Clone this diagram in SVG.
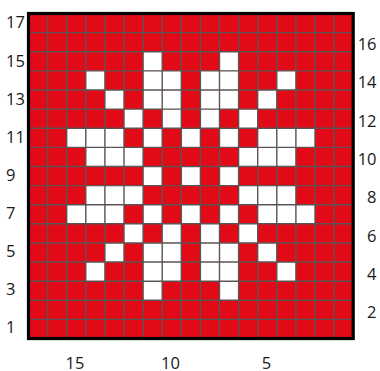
<svg xmlns="http://www.w3.org/2000/svg" width="380" height="371" viewBox="0 0 380 371">
<style>
.bg{fill:#e30a17}
.w{fill:#ffffff;width:19.1px;height:19.12px}
.grid{fill:none;stroke:#5c5454;stroke-width:1.4}
.border{fill:none;stroke:#000000;stroke-width:3.2}
text{font-family:"Open Sans","Noto Sans","DejaVu Sans",sans-serif;font-size:16.5px;fill:#1a1a1a}
.l{text-anchor:start}
.r{text-anchor:end}
.b{text-anchor:middle}
</style>
<rect width="380" height="371" fill="#ffffff"/>
<g id="chart">
<rect class="bg" x="28.5" y="13.5" width="324.7" height="325.04"/>
<g id="cells">
<rect class="w" x="143.1" y="51.74"/><rect class="w" x="219.5" y="51.74"/>
<rect class="w" x="85.8" y="70.86"/><rect class="w" x="143.1" y="70.86"/><rect class="w" x="162.2" y="70.86"/><rect class="w" x="200.4" y="70.86"/><rect class="w" x="219.5" y="70.86"/><rect class="w" x="276.8" y="70.86"/>
<rect class="w" x="104.9" y="89.98"/><rect class="w" x="143.1" y="89.98"/><rect class="w" x="162.2" y="89.98"/><rect class="w" x="200.4" y="89.98"/><rect class="w" x="219.5" y="89.98"/><rect class="w" x="257.7" y="89.98"/>
<rect class="w" x="124" y="109.1"/><rect class="w" x="162.2" y="109.1"/><rect class="w" x="200.4" y="109.1"/><rect class="w" x="238.6" y="109.1"/>
<rect class="w" x="66.7" y="128.22"/><rect class="w" x="85.8" y="128.22"/><rect class="w" x="104.9" y="128.22"/><rect class="w" x="143.1" y="128.22"/><rect class="w" x="181.3" y="128.22"/><rect class="w" x="219.5" y="128.22"/><rect class="w" x="257.7" y="128.22"/><rect class="w" x="276.8" y="128.22"/><rect class="w" x="295.9" y="128.22"/>
<rect class="w" x="85.8" y="147.34"/><rect class="w" x="104.9" y="147.34"/><rect class="w" x="124" y="147.34"/><rect class="w" x="238.6" y="147.34"/><rect class="w" x="257.7" y="147.34"/><rect class="w" x="276.8" y="147.34"/>
<rect class="w" x="143.1" y="166.46"/><rect class="w" x="181.3" y="166.46"/><rect class="w" x="219.5" y="166.46"/>
<rect class="w" x="85.8" y="185.58"/><rect class="w" x="104.9" y="185.58"/><rect class="w" x="124" y="185.58"/><rect class="w" x="238.6" y="185.58"/><rect class="w" x="257.7" y="185.58"/><rect class="w" x="276.8" y="185.58"/>
<rect class="w" x="66.7" y="204.7"/><rect class="w" x="85.8" y="204.7"/><rect class="w" x="104.9" y="204.7"/><rect class="w" x="143.1" y="204.7"/><rect class="w" x="181.3" y="204.7"/><rect class="w" x="219.5" y="204.7"/><rect class="w" x="257.7" y="204.7"/><rect class="w" x="276.8" y="204.7"/><rect class="w" x="295.9" y="204.7"/>
<rect class="w" x="124" y="223.82"/><rect class="w" x="162.2" y="223.82"/><rect class="w" x="200.4" y="223.82"/><rect class="w" x="238.6" y="223.82"/>
<rect class="w" x="104.9" y="242.94"/><rect class="w" x="143.1" y="242.94"/><rect class="w" x="162.2" y="242.94"/><rect class="w" x="200.4" y="242.94"/><rect class="w" x="219.5" y="242.94"/><rect class="w" x="257.7" y="242.94"/>
<rect class="w" x="85.8" y="262.06"/><rect class="w" x="143.1" y="262.06"/><rect class="w" x="162.2" y="262.06"/><rect class="w" x="200.4" y="262.06"/><rect class="w" x="219.5" y="262.06"/><rect class="w" x="276.8" y="262.06"/>
<rect class="w" x="143.1" y="281.18"/><rect class="w" x="219.5" y="281.18"/>
</g>
<path id="gridlines" class="grid" d="M47.6 13.5V338.54M66.7 13.5V338.54M85.8 13.5V338.54M104.9 13.5V338.54M124 13.5V338.54M143.1 13.5V338.54M162.2 13.5V338.54M181.3 13.5V338.54M200.4 13.5V338.54M219.5 13.5V338.54M238.6 13.5V338.54M257.7 13.5V338.54M276.8 13.5V338.54M295.9 13.5V338.54M315 13.5V338.54M334.1 13.5V338.54M28.5 32.62H353.2M28.5 51.74H353.2M28.5 70.86H353.2M28.5 89.98H353.2M28.5 109.1H353.2M28.5 128.22H353.2M28.5 147.34H353.2M28.5 166.46H353.2M28.5 185.58H353.2M28.5 204.7H353.2M28.5 223.82H353.2M28.5 242.94H353.2M28.5 262.06H353.2M28.5 281.18H353.2M28.5 300.3H353.2M28.5 319.42H353.2"/>
<rect class="border" x="28.5" y="13.5" width="324.7" height="325.04"/>
</g>
<g id="row-labels-left">
<text class="l" x="6" y="28.3">17</text>
<text class="l" x="6" y="66.6">15</text>
<text class="l" x="6" y="104.9">13</text>
<text class="l" x="6" y="142.9">11</text>
<text class="l" x="6" y="180.5">9</text>
<text class="l" x="6" y="218.6">7</text>
<text class="l" x="6" y="256.8">5</text>
<text class="l" x="6" y="295">3</text>
<text class="l" x="6" y="333.3">1</text>
</g>
<g id="row-labels-right">
<text class="r" x="376.5" y="50">16</text>
<text class="r" x="376.5" y="88.2">14</text>
<text class="r" x="376.5" y="126.6">12</text>
<text class="r" x="376.5" y="164.9">10</text>
<text class="r" x="376.5" y="203.3">8</text>
<text class="r" x="376.5" y="241.6">6</text>
<text class="r" x="376.5" y="279.9">4</text>
<text class="r" x="376.5" y="318.2">2</text>
</g>
<g id="col-labels">
<text class="b" x="75" y="368.5">15</text>
<text class="b" x="170.5" y="368.5">10</text>
<text class="b" x="266.5" y="368.5">5</text>
</g>
</svg>
